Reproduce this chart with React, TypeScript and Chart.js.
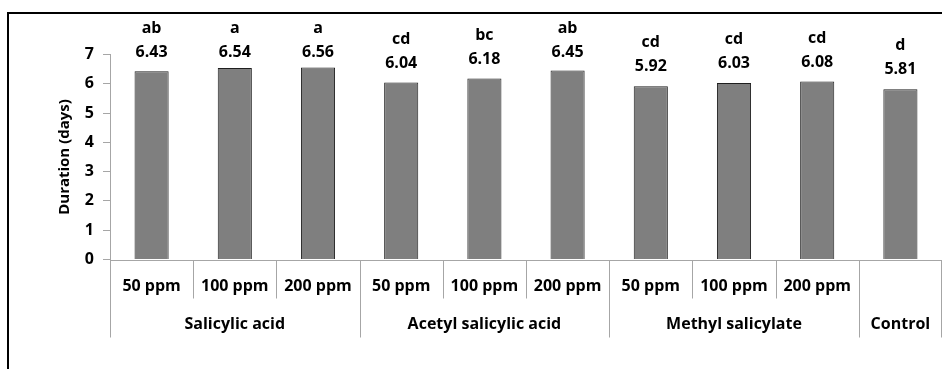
import React, { useEffect, useRef } from "react";
import { Chart, registerables } from "chart.js";

Chart.register(...registerables);

const subLabels = ["50 ppm", "100 ppm", "200 ppm", "50 ppm", "100 ppm", "200 ppm", "50 ppm", "100 ppm", "200 ppm", ""];
const groupNames = ["Salicylic acid", "Acetyl salicylic acid", "Methyl salicylate", "Control"];
const groupSizes = [3, 3, 3, 1];
const durations = [6.43, 6.54, 6.56, 6.04, 6.18, 6.45, 5.92, 6.03, 6.08, 5.81];
const letters = ["ab", "a", "a", "cd", "bc", "ab", "cd", "cd", "cd", "d"];
const yTicks = [0, 1, 2, 3, 4, 5, 6, 7];

const FONT = "'Open Sans'";
const AXIS_GRAY = "#a6a6a6";

const overlayPlugin = {
  id: "overlay",
  afterDraw(chart: any) {
    const ctx = chart.ctx;
    const x = chart.scales.x;
    const y = chart.scales.y;
    const area = chart.chartArea;
    const y0 = Math.round(y.getPixelForValue(0)) + 0.5;
    const n = subLabels.length;
    const step = x.getPixelForValue(1) - x.getPixelForValue(0);
    const bound = (i: number) => x.getPixelForValue(i) - step / 2;

    ctx.save();
    ctx.strokeStyle = AXIS_GRAY;
    ctx.lineWidth = 1;
    ctx.beginPath();
    ctx.moveTo(area.left, y0);
    ctx.lineTo(area.right, y0);
    ctx.stroke();

    const groupBounds = new Set<number>();
    let acc = 0;
    groupBounds.add(0);
    groupSizes.forEach((s) => {
      acc += s;
      groupBounds.add(acc);
    });
    for (let i = 0; i <= n; i++) {
      let bx = Math.round(bound(i)) + 0.5;
      if (bx > chart.width) bx = chart.width - 0.5;
      const long = groupBounds.has(i);
      ctx.beginPath();
      ctx.moveTo(bx, y0);
      ctx.lineTo(bx, long ? y0 + 77 : y0 + 38);
      ctx.stroke();
    }

    ctx.fillStyle = "#000";
    ctx.font = `bold 16px ${FONT}`;
    ctx.textAlign = "center";
    ctx.textBaseline = "middle";
    for (let i = 0; i < n; i++) {
      if (subLabels[i]) ctx.fillText(subLabels[i], x.getPixelForValue(i), y0 + 25.5);
    }
    acc = 0;
    groupSizes.forEach((s, g) => {
      const cx = (bound(acc) + bound(acc + s)) / 2;
      ctx.fillText(groupNames[g], cx, y0 + 63.5);
      acc += s;
    });

    const meta = chart.getDatasetMeta(0);
    meta.data.forEach((bar: any, i: number) => {
      const vy = Math.max(bar.y - 19.5, 52.5);
      ctx.fillText(durations[i].toFixed(2), bar.x, vy);
      ctx.fillText(letters[i], bar.x, vy - 24);
    });
    ctx.restore();
  },
};

export default function App() {
  const ref = useRef<HTMLCanvasElement>(null);
  useEffect(() => {
    document.body.style.margin = "0";
    const chart = new Chart(ref.current!, {
      type: "bar",
      data: {
        labels: subLabels.map((s, i) => s || "Control" + i),
        datasets: [
          {
            data: durations,
            backgroundColor: "#7f7f7f",
            borderColor: "#1f1f1f",
            borderWidth: 1,
            barPercentage: 0.41,
            categoryPercentage: 1,
          },
        ],
      },
      options: {
        responsive: false,
        devicePixelRatio: 1,
        animation: false,
        layout: { padding: { left: 54, top: 54.5, right: 0, bottom: 109.5 } },
        plugins: { legend: { display: false }, tooltip: { enabled: false } },
        scales: {
          x: { display: false },
          y: {
            min: 0,
            max: 7,
            afterFit: (s: any) => {
              s.width = 56;
            },
            afterBuildTicks: (s: any) => {
              s.ticks = yTicks.map((v) => ({ value: v }));
            },
            ticks: {
              padding: 9,
              color: "#000",
              font: { family: FONT, size: 16, weight: "bold" },
            },
            grid: { drawOnChartArea: false, tickLength: 7, color: AXIS_GRAY },
            border: { display: true, color: AXIS_GRAY, width: 1 },
            title: {
              display: true,
              text: "Duration (days)",
              color: "#000",
              padding: { top: 2, bottom: 2 },
              font: { family: FONT, size: 15, weight: "bold" },
            },
          },
        },
      },
      plugins: [
        overlayPlugin,
        {
          id: "yext",
          afterDraw(chart: any) {
            const ctx = chart.ctx;
            const y0 = chart.scales.y.getPixelForValue(0);
            const lx = Math.round(chart.chartArea.left) + 0.5;
            ctx.save();
            ctx.strokeStyle = AXIS_GRAY;
            ctx.lineWidth = 1;
            ctx.beginPath();
            ctx.moveTo(lx, y0);
            ctx.lineTo(lx, y0 + 77);
            ctx.stroke();
            ctx.restore();
          },
        },
      ],
    });
    return () => chart.destroy();
  }, []);

  return (
    <div style={{ position: "relative", width: 942, height: 369, overflow: "hidden" }}>
      <div
        style={{
          position: "absolute",
          left: 7,
          top: 12,
          width: 1000,
          height: 1000,
          borderTop: "2px solid #000",
          borderLeft: "2px solid #000",
        }}
      />
      <canvas ref={ref} width={942} height={369} style={{ position: "absolute", left: 0, top: 0 }} />
    </div>
  );
}
